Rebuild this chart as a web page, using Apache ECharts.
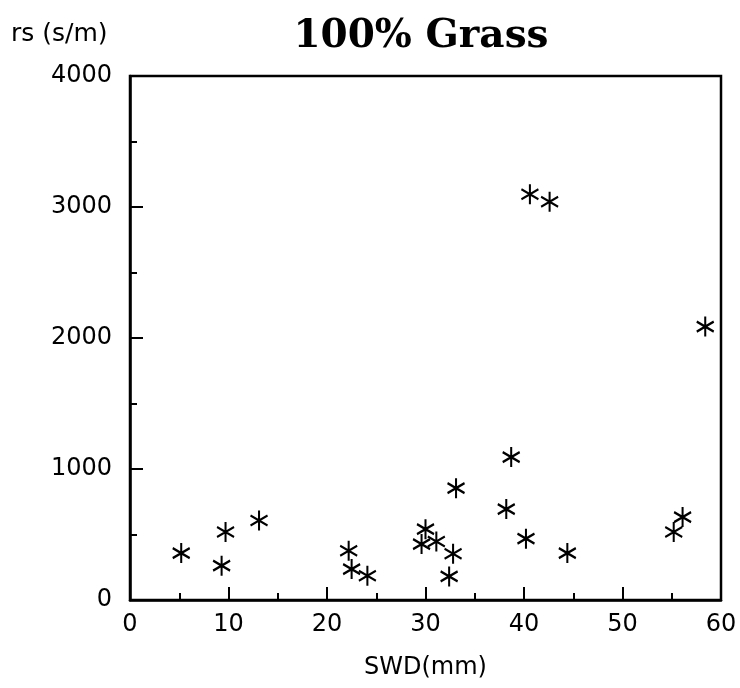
<!DOCTYPE html>
<html>
<head>
<meta charset="utf-8">
<title>100% Grass</title>
<script src="https://cdn.jsdelivr.net/npm/echarts@6/dist/echarts.min.js"></script>
<style>
  html, body { margin: 0; padding: 0; background: #fff; }
  #chart { width: 740px; height: 688px; }
</style>
</head>
<body>
<div id="chart"></div>
<script>
// Soil water deficit (mm) against surface resistance (s/m), grass plots
var swd = [5.2, 9.3, 9.7, 13.1, 22.2, 22.5, 24.1, 30.0, 29.6, 31.1, 32.8,
           32.4, 33.1, 38.7, 38.2, 40.2, 44.4, 55.2, 56.1, 40.6, 42.6, 58.4];
var rs  = [358, 262, 519, 607, 376, 236, 185, 541, 427, 447, 353,
           180, 854, 1091, 694, 468, 358, 519, 633, 3097, 3040, 2087];

var xTicks = [0, 10, 20, 30, 40, 50, 60];
var yTicks = [0, 1000, 2000, 3000, 4000];

var points = swd.map(function (x, i) { return [x, rs[i]]; });

// six-armed asterisk drawn as open strokes
var star = 'path://M0,-10L0,10M-8.66,-5L8.66,5M-8.66,5L8.66,-5';

var labelFont = '"DejaVu Sans", sans-serif';
var plain = function (v) { return String(v); };

var chart = echarts.init(document.getElementById('chart'), null, { renderer: 'canvas' });
chart.setOption({
  animation: false,
  backgroundColor: '#ffffff',
  grid: {
    left: 130, right: 19, top: 76, bottom: 88,
    show: true, borderColor: '#000', borderWidth: 2.5, backgroundColor: 'transparent'
  },
  graphic: [
    {
      type: 'text', x: 421, y: 37,
      style: {
        text: '100% Grass', fill: '#000',
        font: 'bold 39px "DejaVu Serif", serif',
        align: 'center', verticalAlign: 'middle'
      }
    },
    {
      type: 'text', x: 11, y: 34,
      style: {
        text: 'rs (s/m)', fill: '#000',
        font: '25px ' + labelFont,
        align: 'left', verticalAlign: 'middle'
      }
    }
  ],
  xAxis: {
    type: 'value',
    min: xTicks[0], max: xTicks[xTicks.length - 1], interval: 10,
    name: 'SWD(mm)', nameLocation: 'middle', nameGap: 56,
    nameTextStyle: { color: '#000', fontFamily: labelFont, fontSize: 24 },
    axisLine: { show: true, onZero: false, lineStyle: { color: '#000', width: 2.5 } },
    axisTick: { show: true, inside: true, length: 13, lineStyle: { color: '#000', width: 2 } },
    minorTick: { show: true, splitNumber: 2, length: 7, lineStyle: { color: '#000', width: 2 } },
    axisLabel: { color: '#000', fontFamily: labelFont, fontSize: 24, margin: 13, formatter: plain },
    splitLine: { show: false }
  },
  yAxis: {
    type: 'value',
    min: yTicks[0], max: yTicks[yTicks.length - 1], interval: 1000,
    axisLine: { show: true, onZero: false, lineStyle: { color: '#000', width: 2.5 } },
    axisTick: { show: true, inside: true, length: 13, lineStyle: { color: '#000', width: 2 } },
    minorTick: { show: true, splitNumber: 2, length: 7, lineStyle: { color: '#000', width: 2 } },
    axisLabel: { color: '#000', fontFamily: labelFont, fontSize: 24, margin: 18, formatter: plain },
    splitLine: { show: false }
  },
  series: [{
    type: 'scatter',
    data: points,
    symbol: star,
    symbolSize: [17, 20],
    itemStyle: { color: 'transparent', borderColor: '#000', borderWidth: 2.2, opacity: 1 },
    emphasis: { disabled: true }
  }]
});
</script>
</body>
</html>
